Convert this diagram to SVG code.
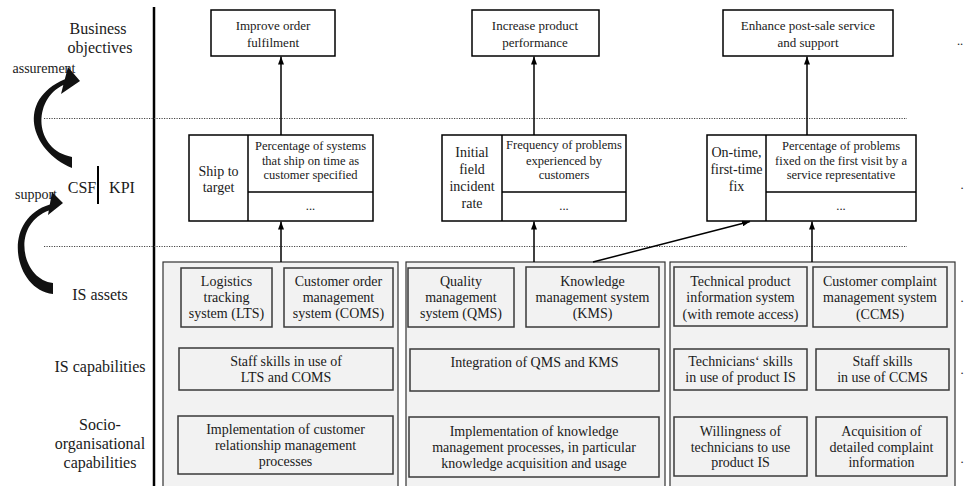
<svg xmlns="http://www.w3.org/2000/svg" width="964" height="486" viewBox="0 0 964 486">
  <defs>
    <marker id="ah" markerUnits="userSpaceOnUse" markerWidth="8" markerHeight="6" refX="8" refY="3" orient="auto">
      <path d="M0,0 L8,3 L0,6 z" fill="#000"/>
    </marker>
    <style>
      text { font-family: "Liberation Serif", "Times New Roman", "DejaVu Serif", serif; fill: #1a1a1a; text-anchor: middle; }
      .lbl { font-size: 16px; }
      .small { font-size: 14px; }
      .obj { font-size: 13px; }
      .kpi { font-size: 12.5px; }
      .csf { font-size: 14px; }
      .asset { font-size: 14px; }
      .box { fill: #fff; stroke: #000; stroke-width: 1.5; }
      .panel { fill: #f2f2f2; stroke: #333; stroke-width: 1.2; }
      .ibox { fill: #f2f2f2; stroke: #3a3a3a; stroke-width: 1.5; }
      .conn { stroke: #000; stroke-width: 1.5; fill: none; }
      .dots { stroke: #444; stroke-width: 1; stroke-dasharray: 1.2 1.3; fill: none; }
    </style>
  </defs>

  <!-- layer labels on the left -->
  <g id="layer-labels">
    <text class="lbl" x="98" y="34">Business</text>
    <text class="lbl" x="100" y="53">objectives</text>
    <text class="small" x="44" y="73">assurement</text>
    <text class="lbl" x="82" y="193">CSF</text>
    <line x1="98" y1="166" x2="98" y2="204" stroke="#000" stroke-width="2"/>
    <text class="lbl" x="122" y="193">KPI</text>
    <text class="small" x="36" y="199">support</text>
    <text class="lbl" x="100" y="300">IS assets</text>
    <text class="lbl" x="100" y="372">IS capabilities</text>
    <text class="lbl" x="100" y="430">Socio-</text>
    <text class="lbl" x="100" y="449">organisational</text>
    <text class="lbl" x="100" y="468">capabilities</text>
  </g>

  <!-- curved block arrows -->
  <g id="curved-arrows" fill="#111">
    <path d="M72,168 C30,150 16,100 64.8,79.2 L68,67 L80,81 L61,94 L63.3,85.1 C32,100 34,150 72,157 Z"/>
    <path d="M53,294 C14,290 0,220 49.8,204.6 L52,192 L63,203 L48,215 L48.8,210.4 C10,225 22,280 53,283 Z"/>
  </g>

  <!-- frame: vertical rule and layer separators -->
  <g id="frame">
    <line x1="154" y1="7" x2="154" y2="486" stroke="#000" stroke-width="2.5"/>
    <line class="dots" x1="44" y1="118.5" x2="907" y2="118.5"/>
    <line class="dots" x1="44" y1="246.5" x2="907" y2="246.5"/>
  </g>

  <!-- business objectives -->
  <g id="obj-order">
    <rect class="box" x="211" y="10" width="124" height="46"/>
    <text class="obj" x="273" y="30">Improve order</text>
    <text class="obj" x="273" y="47">fulfilment</text>
  </g>
  <g id="obj-product">
    <rect class="box" x="472" y="10" width="127" height="46"/>
    <text class="obj" x="535" y="30">Increase product</text>
    <text class="obj" x="535" y="47">performance</text>
  </g>
  <g id="obj-service">
    <rect class="box" x="723" y="10" width="170" height="46"/>
    <text class="obj" x="808" y="30">Enhance post-sale service</text>
    <text class="obj" x="808" y="47">and support</text>
  </g>

  <!-- CSF / KPI pairs -->
  <g id="csf-ship">
    <rect class="box" x="189" y="135" width="184" height="86"/>
    <line class="box" x1="248" y1="135" x2="248" y2="221"/>
    <line class="box" x1="248" y1="192" x2="373" y2="192"/>
    <text class="csf" x="218.5" y="176">Ship to</text>
    <text class="csf" x="218.5" y="192">target</text>
    <text class="kpi" x="310.5" y="150">Percentage of systems</text>
    <text class="kpi" x="310.5" y="164.5">that ship on time as</text>
    <text class="kpi" x="310.5" y="179">customer specified</text>
    <text class="kpi" x="310.5" y="210">...</text>
  </g>
  <g id="csf-incident">
    <rect class="box" x="442" y="135" width="184" height="86"/>
    <line class="box" x1="502" y1="135" x2="502" y2="221"/>
    <line class="box" x1="502" y1="192" x2="626" y2="192"/>
    <text class="csf" x="472" y="157">Initial</text>
    <text class="csf" x="472" y="174">field</text>
    <text class="csf" x="472" y="191">incident</text>
    <text class="csf" x="472" y="208">rate</text>
    <text class="kpi" x="564" y="149">Frequency of problems</text>
    <text class="kpi" x="564" y="164.5">experienced by</text>
    <text class="kpi" x="564" y="179">customers</text>
    <text class="kpi" x="564" y="210">...</text>
  </g>
  <g id="csf-fix">
    <rect class="box" x="707" y="135" width="209" height="86"/>
    <line class="box" x1="766" y1="135" x2="766" y2="221"/>
    <line class="box" x1="766" y1="192" x2="916" y2="192"/>
    <text class="csf" x="736.5" y="157">On-time,</text>
    <text class="csf" x="736.5" y="174">first-time</text>
    <text class="csf" x="736.5" y="191">fix</text>
    <text class="kpi" x="841" y="150">Percentage of problems</text>
    <text class="kpi" x="841" y="165">fixed on the first visit by a</text>
    <text class="kpi" x="841" y="179">service representative</text>
    <text class="kpi" x="841" y="210">...</text>
  </g>

  <!-- IS asset / capability panels -->
  <g id="panel-order">
    <rect class="panel" x="163" y="262" width="235" height="230"/>
    <rect class="ibox" x="181" y="268" width="91" height="59"/>
    <text class="asset" x="226.5" y="286">Logistics</text>
    <text class="asset" x="226.5" y="302">tracking</text>
    <text class="asset" x="226.5" y="318">system (LTS)</text>
    <rect class="ibox" x="284" y="268" width="109" height="59"/>
    <text class="asset" x="338.5" y="286">Customer order</text>
    <text class="asset" x="338.5" y="302">management</text>
    <text class="asset" x="338.5" y="318">system (COMS)</text>
    <rect class="ibox" x="179" y="348" width="214" height="42"/>
    <text class="asset" x="286" y="366">Staff skills in use of</text>
    <text class="asset" x="286" y="382">LTS and COMS</text>
    <rect class="ibox" x="178" y="416" width="215" height="58"/>
    <text class="asset" x="285.5" y="434">Implementation of customer</text>
    <text class="asset" x="285.5" y="450">relationship management</text>
    <text class="asset" x="285.5" y="466">processes</text>
  </g>
  <g id="panel-product">
    <rect class="panel" x="406" y="262" width="259" height="230"/>
    <rect class="ibox" x="408" y="268" width="106" height="59"/>
    <text class="asset" x="461" y="286">Quality</text>
    <text class="asset" x="461" y="302">management</text>
    <text class="asset" x="461" y="318">system (QMS)</text>
    <rect class="ibox" x="526" y="267" width="133" height="60"/>
    <text class="asset" x="592.5" y="286">Knowledge</text>
    <text class="asset" x="592.5" y="302">management system</text>
    <text class="asset" x="592.5" y="318">(KMS)</text>
    <rect class="ibox" x="410" y="349" width="249" height="42"/>
    <text class="asset" x="534.5" y="367">Integration of QMS and KMS</text>
    <rect class="ibox" x="409" y="417" width="250" height="60"/>
    <text class="asset" x="534" y="436">Implementation of knowledge</text>
    <text class="asset" x="534" y="452">management processes, in particular</text>
    <text class="asset" x="534" y="468">knowledge acquisition and usage</text>
  </g>
  <g id="panel-service">
    <rect class="panel" x="670" y="262" width="285" height="230"/>
    <rect class="ibox" x="674" y="267" width="133" height="59"/>
    <text class="asset" x="740.5" y="286">Technical product</text>
    <text class="asset" x="740.5" y="302">information system</text>
    <text class="asset" x="740.5" y="319">(with remote access)</text>
    <rect class="ibox" x="813" y="267" width="134" height="60"/>
    <text class="asset" x="880" y="286">Customer complaint</text>
    <text class="asset" x="880" y="302">management system</text>
    <text class="asset" x="880" y="319">(CCMS)</text>
    <rect class="ibox" x="674" y="349" width="133" height="41"/>
    <text class="asset" x="740.5" y="366">Technicians‘ skills</text>
    <text class="asset" x="740.5" y="382">in use of product IS</text>
    <rect class="ibox" x="816" y="349" width="133" height="41"/>
    <text class="asset" x="882.5" y="366">Staff skills</text>
    <text class="asset" x="882.5" y="382">in use of CCMS</text>
    <rect class="ibox" x="674" y="417" width="133" height="59"/>
    <text class="asset" x="740.5" y="436">Willingness of</text>
    <text class="asset" x="740.5" y="452">technicians to use</text>
    <text class="asset" x="740.5" y="467">product IS</text>
    <rect class="ibox" x="816" y="417" width="131" height="59"/>
    <text class="asset" x="881.5" y="436">Acquisition of</text>
    <text class="asset" x="881.5" y="452">detailed complaint</text>
    <text class="asset" x="881.5" y="467">information</text>
  </g>

  <!-- connectors -->
  <g id="connectors">
    <line class="conn" x1="281" y1="135" x2="281" y2="56.5" marker-end="url(#ah)"/>
    <line class="conn" x1="534" y1="135" x2="534" y2="56.5" marker-end="url(#ah)"/>
    <line class="conn" x1="807" y1="135" x2="807" y2="56.5" marker-end="url(#ah)"/>
    <line class="conn" x1="281" y1="262" x2="281" y2="221.5" marker-end="url(#ah)"/>
    <line class="conn" x1="534" y1="262" x2="534" y2="221.5" marker-end="url(#ah)"/>
    <line class="conn" x1="812" y1="262" x2="812" y2="221.5" marker-end="url(#ah)"/>
    <line class="conn" x1="593" y1="262" x2="750" y2="221.5" marker-end="url(#ah)"/>
  </g>

  <!-- clipped marks at the right edge -->
  <g id="edge-marks">
    <text class="kpi" x="960" y="45">..</text>
    <text class="kpi" x="962" y="189">.</text>
    <text class="kpi" x="962" y="302">.</text>
    <text class="kpi" x="962" y="374">.</text>
    <text class="kpi" x="962" y="463">.</text>
  </g>
</svg>
